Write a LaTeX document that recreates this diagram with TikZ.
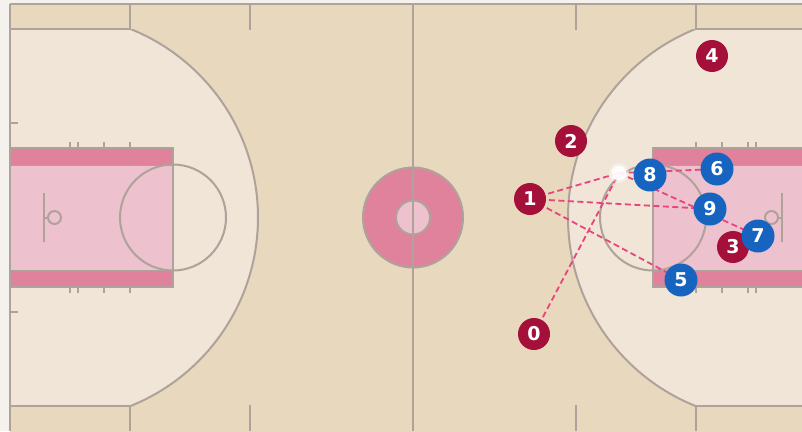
\documentclass[tikz,border=0pt]{standalone}
\usepackage{fontspec}
\newfontfamily\numfont{DejaVu Sans}
\definecolor{marginc}{HTML}{F5F1EC}
\definecolor{tanc}{HTML}{E8D8BD}
\definecolor{innerc}{HTML}{F0E5D7}
\definecolor{lanec}{HTML}{EDC1CE}
\definecolor{bandc}{HTML}{E0829C}
\definecolor{linec}{HTML}{AFA29A}
\definecolor{redc}{HTML}{A5103B}
\definecolor{bluec}{HTML}{1764C0}
\definecolor{passc}{HTML}{E8457B}
\pgfdeclarelayer{court}
\pgfdeclarelayer{passes}
\pgfsetlayers{court,passes,main}
\tikzset{
  courtline/.style={draw=linec, line width=2pt},
  player/.style={circle, inner sep=0pt, minimum size=32pt, text=white,
    font=\numfont\bfseries\fontsize{19}{19}\selectfont},
  redp/.style={player, fill=redc},
  bluep/.style={player, fill=bluec, minimum size=33pt},
  pass/.style={draw=passc, line width=1.8pt, dash pattern=on 6pt off 3.5pt},
  ballc/.style={circle, fill=white, minimum size=15pt, inner sep=0pt, opacity=0.9}
}
\begin{document}
\begin{tikzpicture}[x=1pt,y=-1pt]
\useasboundingbox (0,0) rectangle (802,431);
\begin{pgfonlayer}{court}
\begin{scope}
\clip (0,0) rectangle (802,431);
\fill[marginc] (0,0) rectangle (802,431);
\fill[tanc] (10,4) rectangle (830,440);
% left three-point area
\begin{scope}
\clip (10,29) rectangle (300,406);
\fill[innerc] (55,217.5) circle[radius=203pt];
\draw[courtline] (55,217.5) circle[radius=203pt];
\end{scope}
\draw[courtline] (10,29) -- (130,29) (10,406) -- (130,406);
% right three-point area
\begin{scope}
\clip (520,29) rectangle (830,406);
\fill[innerc] (771,217.5) circle[radius=203pt];
\draw[courtline] (771,217.5) circle[radius=203pt];
\end{scope}
\draw[courtline] (696,29) -- (830,29) (696,406) -- (830,406);
% sideline ticks
\draw[courtline] (130,4) -- (130,29) (250,4) -- (250,30)
  (130,406) -- (130,431) (250,405) -- (250,431)
  (576,4) -- (576,30) (696,4) -- (696,29)
  (576,405) -- (576,431) (696,406) -- (696,431);
\draw[courtline] (10,123) -- (18,123) (10,312) -- (18,312);
% left lane
\fill[lanec] (10,148) rectangle (173,287);
\fill[bandc] (10,148) rectangle (173,165);
\fill[bandc] (10,270) rectangle (173,287);
\draw[draw=linec, line width=0.8pt] (10,165) -- (173,165) (10,270) -- (173,270);
\draw[courtline, line width=2.4pt] (10,148) rectangle (173,287);
\draw[courtline] (173,217.5) circle[radius=53pt];
\draw[courtline] (70,142) -- (70,148) (78,142) -- (78,148) (104,142) -- (104,148) (130,142) -- (130,148)
  (70,287) -- (70,293) (78,287) -- (78,293) (104,287) -- (104,293) (130,287) -- (130,293);
\draw[courtline] (44,193) -- (44,242) (44,217.5) -- (48,217.5);
\draw[courtline] (54.5,217.5) circle[radius=6.5pt];
% right lane
\fill[lanec] (653,148) rectangle (830,287);
\fill[bandc] (653,148) rectangle (830,165);
\fill[bandc] (653,270) rectangle (830,287);
\draw[draw=linec, line width=0.8pt] (653,165) -- (830,165) (653,270) -- (830,270);
\draw[courtline, line width=2.4pt] (830,148) -- (653,148) -- (653,287) -- (830,287);
\draw[courtline] (653,217.5) circle[radius=53pt];
\draw[courtline] (756,142) -- (756,148) (748,142) -- (748,148) (722,142) -- (722,148) (696,142) -- (696,148)
  (756,287) -- (756,293) (748,287) -- (748,293) (722,287) -- (722,293) (696,287) -- (696,293);
\draw[courtline] (782,193) -- (782,242) (782,217.5) -- (778,217.5);
\draw[courtline] (771.5,217.5) circle[radius=6.5pt];
% centre circle
\draw[courtline, fill=bandc] (413,217.5) circle[radius=50pt];
\draw[courtline, fill=lanec] (413,217.5) circle[radius=17pt];
\draw[courtline] (413,4) -- (413,431);
% outer lines
\draw[courtline] (10,4) -- (10,431) (10,4) -- (802,4);
\end{scope}
\end{pgfonlayer}
% ball
\fill[white, opacity=0.35] (619,173) circle[radius=10pt];
\node[ballc] (ball) at (619,173) {};
% players
\node[redp] (p4) at (712,56) {4};
\node[redp] (p2) at (571,141) {2};
\node[redp] (p1) at (530,199) {1};
\node[redp] (p0) at (534,334) {0};
\node[redp] (p3) at (733,247) {3};
\node[bluep] (p8) at (650,175) {8};
\node[bluep] (p6) at (717,169) {6};
\node[bluep] (p9) at (710,209) {9};
\node[bluep] (p7) at (758,236) {7};
\node[bluep] (p5) at (681,280) {5};
\begin{pgfonlayer}{passes}
\draw[pass] (p1.center) -- (ball.center);
\draw[pass] (p1.center) -- (p9.center);
\draw[pass] (p1.center) -- (p5.center);
\draw[pass] (p0.center) -- (ball.center);
\draw[pass] (ball.center) -- (p6.center);
\draw[pass] (ball.center) -- (p7.center);
\draw[pass] (p3.center) -- (p7.center);
\end{pgfonlayer}
\end{tikzpicture}
\end{document}
